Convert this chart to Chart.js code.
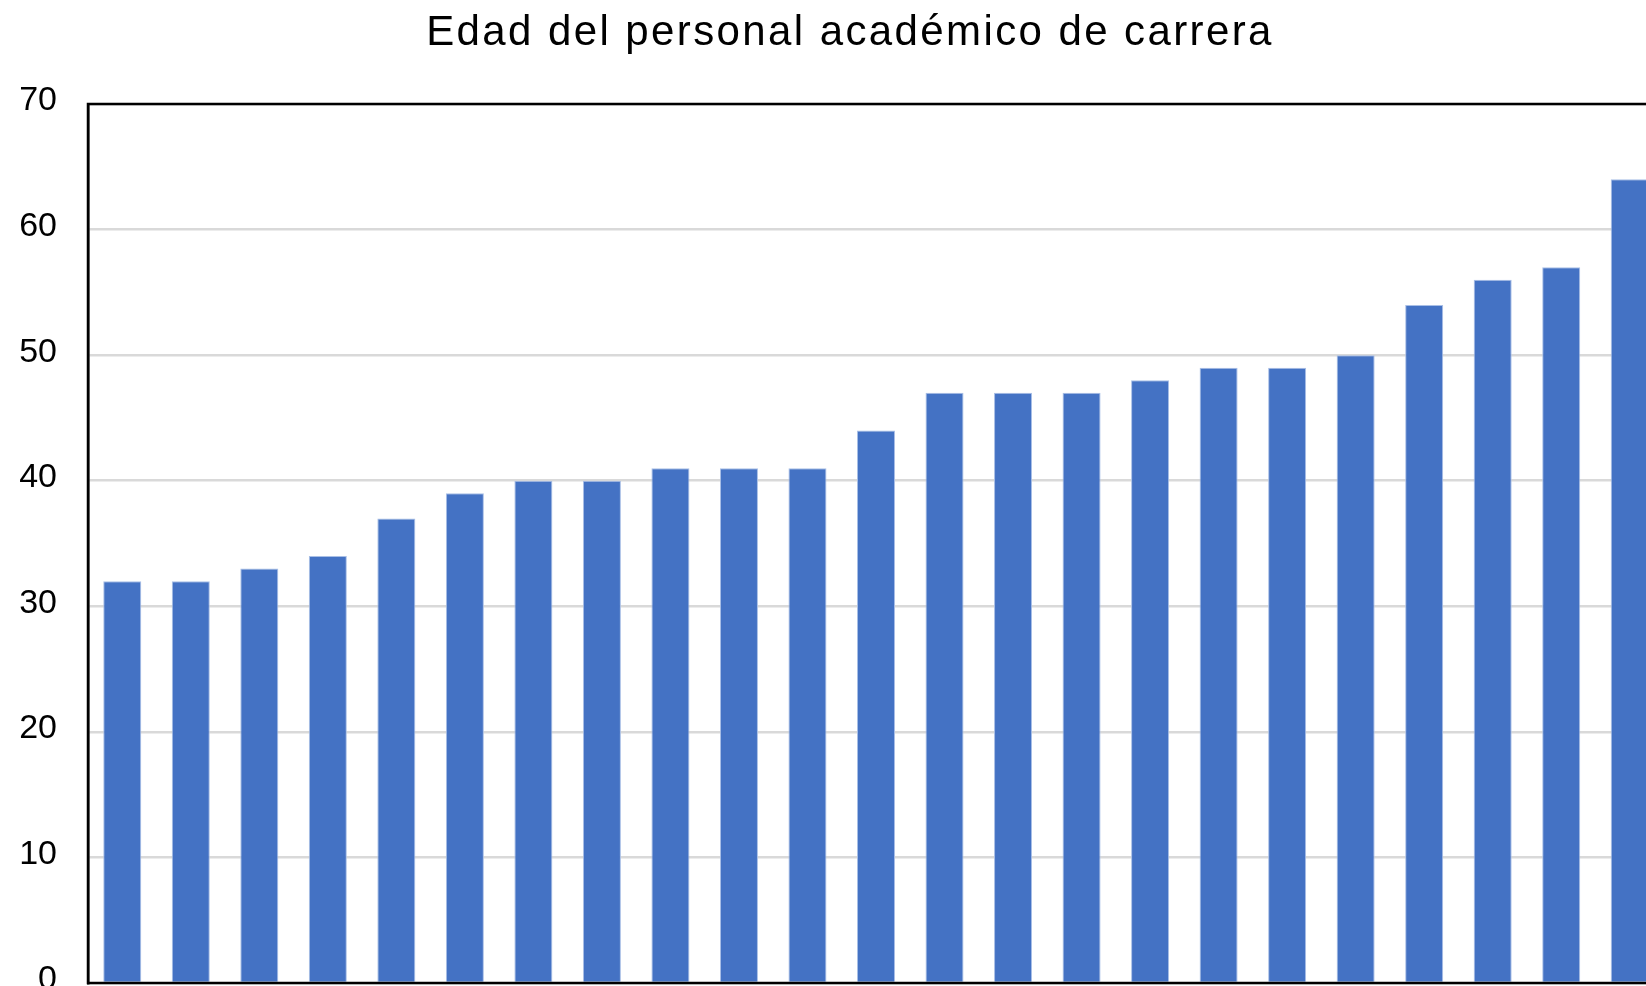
<!DOCTYPE html>
<html>
<head>
<meta charset="utf-8">
<script src="https://cdn.jsdelivr.net/npm/chart.js@4"></script>
<style>
  body { margin: 0; background: #fff; }
  #wrap { width: 1646px; height: 986px; overflow: hidden; }
</style>
</head>
<body>
<div id="wrap"><canvas id="edadChart" width="1700" height="986"></canvas></div>
<script>
  // una barra por persona, ordenadas por edad
  const personas = ['1', '2', '3', '4', '5', '6', '7', '8', '9', '10', '11', '12',
    '13', '14', '15', '16', '17', '18', '19', '20', '21', '22', '23'];
  const edades = [32, 32, 33, 34, 37, 39, 40, 40, 41, 41, 41, 44,
    47, 47, 47, 48, 49, 49, 50, 54, 56, 57, 64];
  const ticksY = [0, 10, 20, 30, 40, 50, 60, 70];
  const titulo = 'Edad del personal académico de carrera';

  // marco negro y titulo (con algo de espacio entre letras)
  const marco = {
    id: 'marco',
    afterDraw(chart) {
      const a = chart.chartArea;
      const ctx = chart.ctx;
      ctx.save();
      ctx.strokeStyle = '#000';
      ctx.lineWidth = 2.5;
      ctx.strokeRect(a.left, a.top, a.right - a.left, a.bottom - a.top);
      ctx.fillStyle = '#000';
      ctx.font = '42px "Liberation Sans", Arial, sans-serif';
      ctx.letterSpacing = '2.4px';
      ctx.textAlign = 'center';
      ctx.textBaseline = 'alphabetic';
      ctx.fillText(titulo, chart.width / 2, 45);
      ctx.restore();
    }
  };

  var ctx = document.getElementById("edadChart");
  var myChart = new Chart(ctx, {
    type: 'bar',
    data: {
      labels: personas,
      datasets: [{
        label: 'Edad',
        data: edades,
        backgroundColor: '#4472C4',
        borderColor: '#a9bfe6',
        borderWidth: 1,
        barPercentage: 0.555,
        categoryPercentage: 1
      }]
    },
    options: {
      responsive: false,
      animation: false,
      layout: { padding: { left: 0, right: 36, top: 104, bottom: 3 } },
      plugins: {
        legend: { display: false },
        tooltip: { enabled: false },
        title: { display: false }
      },
      scales: {
        x: {
          display: false
        },
        y: {
          min: 0,
          max: 70,
          afterBuildTicks: axis => { axis.ticks = ticksY.map(v => ({ value: v })); },
          afterFit: axis => {
            axis.width = 88;
            axis.paddingTop = 0;
            axis.paddingBottom = 0;
          },
          ticks: {
            color: '#000',
            padding: 31,
            labelOffset: -3,
            font: { family: 'Liberation Sans, Arial, sans-serif', size: 34 }
          },
          grid: { color: '#d9d9d9', lineWidth: 2.5, drawTicks: false },
          border: { color: '#000', width: 2.5 }
        }
      }
    },
    plugins: [marco]
  });
</script>
</body>
</html>
